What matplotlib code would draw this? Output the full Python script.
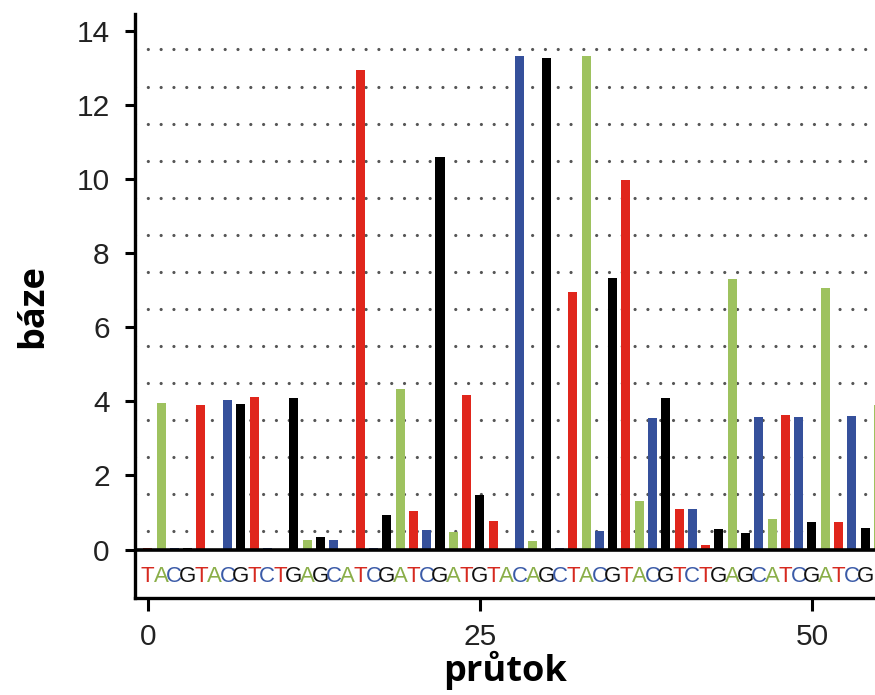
import numpy as np
import matplotlib.pyplot as plt

# flow order (base per flow) and measured signal per flow
flow_bases = "TACGTACGTCTGAGCATCGATCGATGTACAGCTACGTACGTCTGAGCATCGATCGA"
signal = [0.05, 3.95, 0.03, 0.03, 3.90, 0.00, 4.05, 3.92, 4.13, 0.03,
          0.00, 4.10, 0.25, 0.33, 0.25, 0.00, 12.95, 0.03, 0.92, 4.33,
          1.05, 0.54, 10.60, 0.48, 4.17, 1.47, 0.76, 0.00, 13.32, 0.24,
          13.27, 0.05, 6.95, 13.32, 0.50, 7.32, 9.97, 1.32, 3.55, 4.10,
          1.10, 1.10, 0.13, 0.55, 7.30, 0.44, 3.58, 0.83, 3.63, 3.58,
          0.75, 7.06, 0.74, 3.60, 0.57, 3.90]
n_labelled = 55  # letters visible under the plot
x_ticks = [0, 25, 50]
y_ticks = [0, 2, 4, 6, 8, 10, 12, 14]
grid_levels = np.arange(0.5, 14, 1.0)

bar_colors = {"T": "#e0261c", "A": "#9ec25f", "C": "#35509b", "G": "#000000"}
text_colors = {"T": "#d62a20", "A": "#8aae48", "C": "#3b5ba8", "G": "#111111"}

fig = plt.figure(figsize=(8.75, 6.95), dpi=100)
ax = fig.add_axes([0.154, 0.140, 0.846, 0.840])

flows = np.arange(len(flow_bases))
ax.bar(flows, signal, width=0.68, color=[bar_colors[b] for b in flow_bases],
       zorder=2)

for lvl in grid_levels:
    ax.axhline(lvl, color="#555555", lw=2.3, linestyle=(0, (0.01, 4.0)),
               dash_capstyle="round", zorder=1)
ax.axhline(0, color="black", lw=2.6, zorder=3)

for i, b in enumerate(flow_bases[:n_labelled]):
    ax.text(i, -0.72, b, color=text_colors[b], fontsize=16,
            family="Liberation Sans", ha="center", va="center")

ax.set_xlim(-0.98, 54.75)
ax.set_ylim(-1.3, 14.46)
ax.set_xticks(x_ticks)
ax.set_yticks(y_ticks)

for side in ["top", "right"]:
    ax.spines[side].set_visible(False)
for side in ["left", "bottom"]:
    ax.spines[side].set_linewidth(2.4)

ax.tick_params(axis="y", length=7, width=2.2, pad=11, labelsize=21.5,
               labelcolor="#222222")
ax.tick_params(axis="x", length=9, width=2.2, pad=9, labelsize=21.5,
               labelcolor="#222222")
for lab in ax.get_xticklabels() + ax.get_yticklabels():
    lab.set_family("Liberation Sans")

ax.set_xlabel("průtok", fontsize=26, fontweight="bold", family="Open Sans",
              labelpad=0)
ax.set_ylabel("báze", fontsize=26, fontweight="bold", family="Open Sans",
              labelpad=18)

fig.savefig("out.png", dpi=100)
